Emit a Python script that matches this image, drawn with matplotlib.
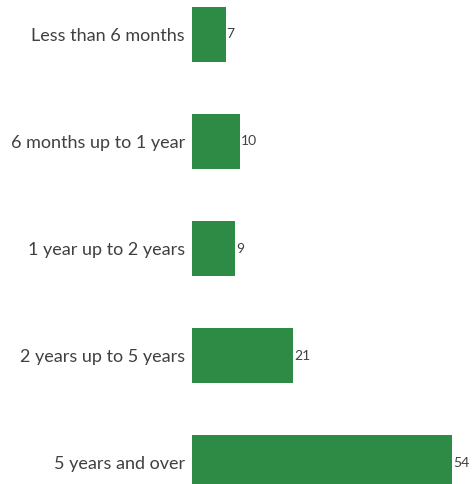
import matplotlib
matplotlib.use("Agg")
import matplotlib.pyplot as plt

categories = ["Less than 6 months", "6 months up to 1 year", "1 year up to 2 years",
              "2 years up to 5 years", "5 years and over"]
values = [7, 10, 9, 21, 54]

bar_color = "#2e8b46"
text_color = "#404040"

fig = plt.figure(figsize=(4.75, 4.84), dpi=100)
ax = fig.add_axes([192 / 475, 0, 1 - 192 / 475, 1])

pos = list(range(len(categories)))
bars = ax.barh(pos, values, height=0.514, color=bar_color)

ax.set_xlim(0, 58.8)
ax.set_ylim(4.2, -0.322)

ax.set_yticks(pos)
ax.set_yticklabels(categories, fontsize=13, color=text_color, family="Lato")
ax.tick_params(axis="y", length=0, pad=5)
ax.set_xticks([])
for s in ax.spines.values():
    s.set_visible(False)

for b, v in zip(bars, values):
    ax.text(b.get_width() + 0.2, b.get_y() + b.get_height() / 2, str(v),
            va="center", ha="left", fontsize=10, color=text_color, family="Lato")

fig.savefig("out.png", dpi=100)
